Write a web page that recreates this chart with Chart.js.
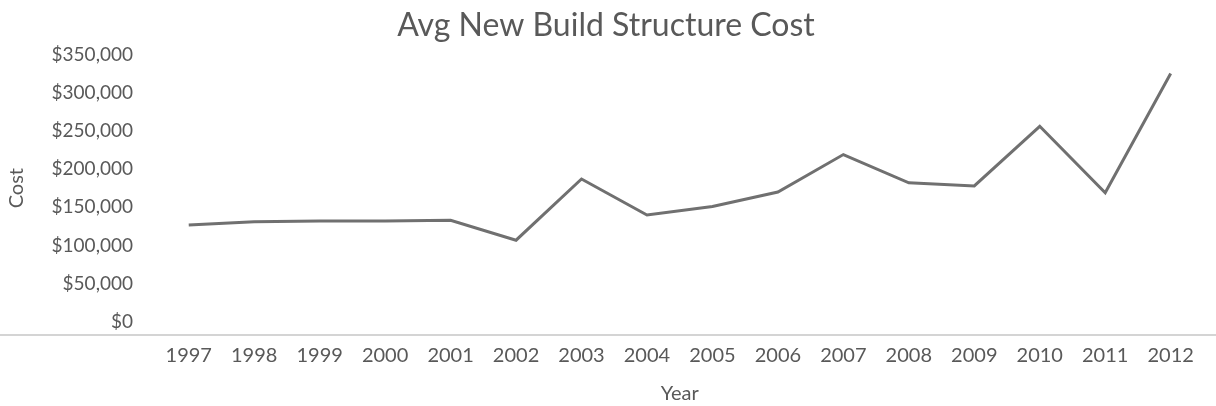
<!DOCTYPE html>
<html lang="en">
<head>
  <meta charset="UTF-8">
  <title>Avg New Build Structure Cost</title>
  <script src="https://cdn.jsdelivr.net/npm/chart.js"></script>
  <style>
    body { margin: 0; background: #fff; }
    #wrap { width: 1216px; height: 406px; }
  </style>
</head>
<body>
  <div id="wrap"><canvas id="grafico"></canvas></div>

  <script>
    const anos = ["1997","1998","1999","2000","2001","2002","2003","2004","2005","2006","2007","2008","2009","2010","2011","2012"];
    const custo = [127000, 131000, 132000, 132000, 133000, 107000, 187000, 140000, 151000, 170000, 219000, 182000, 178000, 256000, 169000, 325000];
    const yMax = 350000;
    const yPasso = 50000;

    const cinza = "#595959";
    const fonte = "Lato";

    // linha fina que atravessa a pagina logo abaixo do grafico
    const linhaBase = {
      id: "linhaBase",
      afterDraw(chart) {
        const ctx = chart.ctx;
        const y = chart.scales.y.getPixelForValue(0) + 13;
        ctx.save();
        ctx.strokeStyle = "#d4d4d4";
        ctx.lineWidth = 2;
        ctx.beginPath();
        ctx.moveTo(0, y);
        ctx.lineTo(chart.width, y);
        ctx.stroke();
        ctx.restore();
      }
    };

    new Chart(document.getElementById("grafico"), {
      type: "line",
      data: {
        labels: anos,
        datasets: [{
          label: "Cost",
          data: custo,
          borderColor: "#707070",
          borderWidth: 3,
          pointRadius: 0,
          tension: 0,
          fill: false
        }]
      },
      options: {
        responsive: true,
        maintainAspectRatio: false,
        animation: false,
        layout: { padding: { left: 0, right: 4, top: 0, bottom: 0 } },
        plugins: {
          legend: { display: false },
          tooltip: { enabled: false },
          title: {
            display: true,
            text: "Avg New Build Structure Cost",
            color: cinza,
            font: { family: fonte, size: 32, weight: "normal" },
            padding: { top: 6, bottom: 10 }
          }
        },
        scales: {
          x: {
            offset: true,
            grid: { display: false, drawTicks: false },
            border: { display: false },
            ticks: { color: cinza, font: { family: fonte, size: 20 }, padding: 22, maxRotation: 0, autoSkip: false },
            title: { display: true, text: "Year", color: cinza, font: { family: fonte, size: 20 }, padding: { top: 12, bottom: 0 } },
            afterFit(scale) { scale.height = 84; }
          },
          y: {
            min: 0,
            max: yMax,
            grid: { display: false, drawTicks: false },
            border: { display: false },
            ticks: {
              stepSize: yPasso,
              color: cinza,
              font: { family: fonte, size: 19 },
              padding: 23,
              callback: v => "$" + v.toLocaleString("en-US")
            },
            title: { display: true, text: "Cost", color: cinza, font: { family: fonte, size: 20 }, padding: { top: 5, bottom: 0 } },
            afterFit(scale) { scale.width = 156; }
          }
        }
      },
      plugins: [linhaBase]
    });
  </script>
</body>
</html>
